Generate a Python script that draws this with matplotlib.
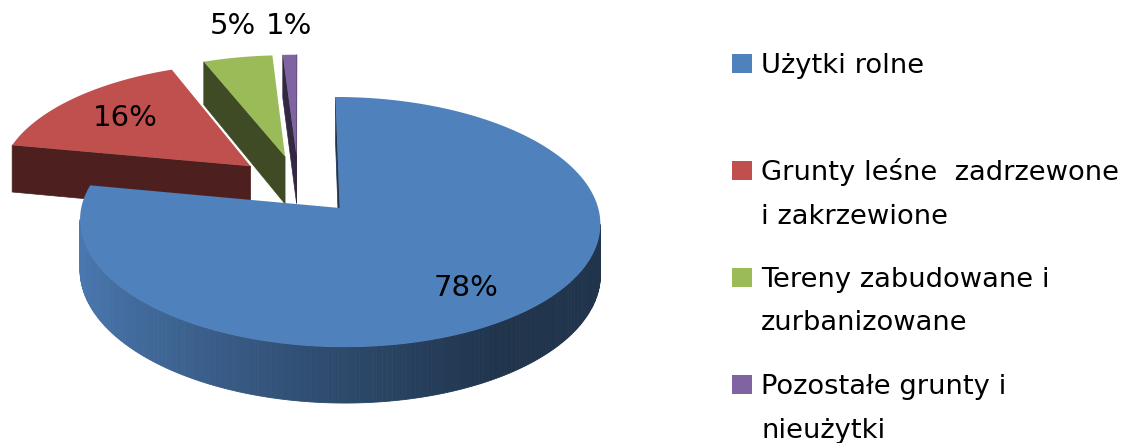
import numpy as np
import matplotlib
matplotlib.use("Agg")
import matplotlib.pyplot as plt
from matplotlib.patches import Polygon, Rectangle
from matplotlib.colors import to_rgb

# ---- data ----
categories = ["Użytki rolne",
              "Grunty leśne  zadrzewone\ni zakrzewione",
              "Tereny zabudowane i\nzurbanizowane",
              "Pozostałe grunty i\nnieużytki"]
values = [78, 16, 5, 1]
pct_labels = [f"{v}%" for v in values]
colors = ["#4F81BD", "#C0504D", "#9BBB59", "#8064A2"]

# ---- layout / projection parameters (pixel space) ----
CX, CY = 298.5, 184.7      # projected pie centre
RX, RY = 253.0, 118.3      # radii of the tilted disc
P = 0.11                   # perspective strength
H = 48.6                   # thickness
E = 0.25                   # explosion
label_pos = [(466, 288), (125, 118), (233, 26), (289, 26)]

def proj(u, v, z):
    s = 1.0 / (1.0 - P * v)
    return CX + RX * u * s, CY + (RY * v + H * z) * s

def shade(c, f):
    r, g, b = to_rgb(c)
    return (r * f, g * f, b * f)

fig = plt.figure(figsize=(11.32, 4.43), dpi=100)
ax = fig.add_axes([0, 0, 1, 1])
ax.set_xlim(0, 1132)
ax.set_ylim(443, 0)
ax.axis("off")

total = float(sum(values))
cum = np.concatenate([[0], np.cumsum(values)]) / total * 360.0
slices = []
for i in range(len(values)):
    a, b = cum[i], cum[i + 1]
    m = np.radians((a + b) / 2)
    ou, ov = E * np.sin(m), -E * np.cos(m)
    slices.append((ov, i, a, b, ou))
slices.sort()

cam = (0.0, 1.0 / P)
for ov, i, a, b, ou in slices:
    col = colors[i]
    n = max(4, int((b - a) * 1.5))
    th = np.radians(np.linspace(a, b, n))
    # radial cut faces
    for ang, sgn in ((np.radians(a), -1), (np.radians(b), 1)):
        nu, nv = sgn * np.cos(ang), sgn * np.sin(ang)
        qu, qv = ou + 0.5 * np.sin(ang), ov - 0.5 * np.cos(ang)
        if nu * (cam[0] - qu) + nv * (cam[1] - qv) > 0:
            ru, rv = ou + np.sin(ang), ov - np.cos(ang)
            pts = [proj(ou, ov, 0), proj(ru, rv, 0), proj(ru, rv, 1), proj(ou, ov, 1)]
            ax.add_patch(Polygon(pts, closed=True, fc=shade(col, 0.4),
                                 ec=shade(col, 0.4), lw=0.5))
    # outer wall
    for k in range(n - 1):
        t0, t1 = th[k], th[k + 1]
        tm = 0.5 * (t0 + t1)
        qu, qv = ou + np.sin(tm), ov - np.cos(tm)
        if np.sin(tm) * (cam[0] - qu) - np.cos(tm) * (cam[1] - qv) > 0:
            u0, v0 = ou + np.sin(t0), ov - np.cos(t0)
            u1, v1 = ou + np.sin(t1), ov - np.cos(t1)
            pts = [proj(u0, v0, 0), proj(u1, v1, 0), proj(u1, v1, 1), proj(u0, v0, 1)]
            xm = proj(qu, qv, 0)[0]
            t = np.clip((xm - 85) / 420.0, 0, 1) ** 0.8
            c = shade(col, 0.92 + (0.40 - 0.92) * t)
            ax.add_patch(Polygon(pts, closed=True, fc=c, ec=c, lw=0.6))
    # top surface
    pts = [proj(ou, ov, 0)] + [proj(ou + np.sin(t), ov - np.cos(t), 0) for t in th]
    ax.add_patch(Polygon(pts, closed=True, fc=col, ec="none"))

for (x, y), lab in zip(label_pos, pct_labels):
    ax.text(x, y, lab, ha="center", va="center", fontsize=21,
            family="DejaVu Sans", color="black")

# ---- legend ----
first_base = 73
item_step = 107
line_gap = 43.5
for i, (cat, col) in enumerate(zip(categories, colors)):
    base = first_base + i * item_step
    ax.add_patch(Rectangle((732, base - 9.5 - 9.5), 20, 19, fc=col, ec="none"))
    for j, line in enumerate(cat.split("\n")):
        ax.text(761, base + j * line_gap, line, ha="left", va="baseline",
                fontsize=19.7, family="DejaVu Sans", color="black")

fig.savefig("out.png", dpi=100)
